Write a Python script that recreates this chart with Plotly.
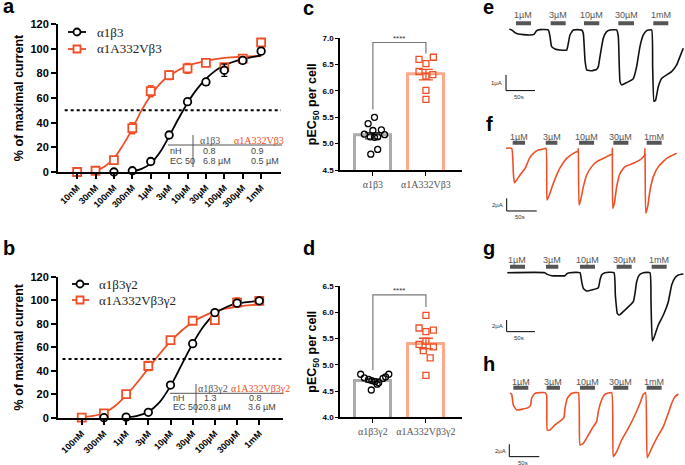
import plotly.graph_objects as go

W, H = 685, 465
RED = "#EF4F26"
SALMON = "#FFA98A"
GREY_BAR = "#ABABAB"
SANS = "Liberation Sans"
SERIF = "Liberation Serif"

# ---------------- a: a1b3 vs a1A332Vb3 (x = log10 molar)
a_ticks = [-8, -7.5, -7, -6.5, -6, -5.5, -5, -4.5, -4, -3.5, -3]
a_ticklabels = ["10nM", "30nM", "100nM", "300nM", "1µM", "3µM", "10µM", "30µM", "100µM", "300µM", "1mM"]
a_wt_x = [-7, -6.5, -6, -5.5, -5, -4.5, -4, -3.5, -3]
a_wt_y = [0, 1, 8.5, 30, 57, 73, 82.5, 90.5, 98]
a_wt_err = [0.5, 0.8, 1.2, 2.5, 2.5, 2.5, 5, 2.5, 1.5]
a_mut_x = [-8, -7.5, -7, -6.5, -6, -5.5, -5, -4.5, -4, -3.5, -3]
a_mut_y = [0, 1, 9.7, 35.5, 65.5, 78.5, 84, 88.5, 85, 92, 105]
a_mut_err = [0.5, 1, 1.5, 4.5, 4.5, 3.5, 4, 2, 2, 1.5, 1]
a_wt_fit_x = [-6.6, -6.25, -6, -5.75, -5.5, -5.25, -5, -4.75, -4.5, -4.25, -4, -3.5, -3]
a_wt_fit_y = [0, 2.5, 7, 16, 29, 43, 56, 67, 75.5, 82, 86.5, 91.5, 94.5]
a_mut_fit_x = [-7.6, -7.5, -7.25, -7, -6.75, -6.5, -6.25, -6, -5.75, -5.5, -5, -4.5, -4, -3.5, -3]
a_mut_fit_y = [0, 1, 4.5, 11, 22, 35, 50, 62, 71.5, 78, 86, 90, 92.5, 93.5, 94]

# ---------------- b: a1b3g2 vs a1A332Vb3g2
b_ticks = [-7, -6.5, -6, -5.5, -5, -4.5, -4, -3.5, -3]
b_ticklabels = ["100nM", "300nM", "1µM", "3µM", "10µM", "30µM", "100µM", "300µM", "1mM"]
b_wt_x = [-6.5, -6, -5.5, -5, -4.5, -4, -3.5, -3]
b_wt_y = [0, 0.5, 4.6, 27.8, 63, 89.5, 97.5, 99.5]
b_wt_err = [0.5, 0.5, 1, 2, 2, 2, 2, 1.5]
b_mut_x = [-7, -6.5, -6, -5.5, -5, -4.5, -4, -3.5, -3]
b_mut_y = [0, 3.7, 20, 44, 66, 82.5, 83, 98, 99.5]
b_mut_err = [0.5, 1, 2, 4, 3, 2, 2.5, 4, 1.5]
b_wt_fit_x = [-6.05, -5.75, -5.5, -5.25, -5, -4.75, -4.5, -4.25, -4, -3.75, -3.5, -3]
b_wt_fit_y = [0, 1.5, 5, 13, 27, 45, 63, 78, 88.5, 94, 97, 99.5]
b_mut_fit_x = [-7.1, -7, -6.75, -6.5, -6.25, -6, -5.75, -5.5, -5.25, -5, -4.75, -4.5, -4.25, -4, -3.5, -3]
b_mut_fit_y = [0, 0.5, 1.5, 4, 10, 19, 30, 42, 54, 65, 74, 81.5, 86.5, 90.5, 94.5, 96.5]

# ---------------- c / d: pEC50 per cell
c_groups = ["α1β3", "α1A332Vβ3"]
c_means = [5.15, 6.31]
c_sems = [0.06, 0.10]
c_wt = [5.50, 5.38, 5.25, 5.26, 5.18, 5.17, 5.13, 5.13, 5.12, 4.89, 4.80]
c_wt_jit = [0.03, -0.09, 0, 0.16, -0.16, 0.22, 0.09, -0.05, 0.03, 0.09, -0.04]
c_mut = [6.60, 6.64, 6.52, 6.37, 6.31, 6.28, 6.01, 5.84]
c_mut_jit = [-0.13, 0.14, 0, -0.13, 0.13, 0, 0, 0]

d_groups = ["α1β3γ2", "α1A332Vβ3γ2"]
d_means = [4.70, 5.405]
d_sems = [0.03, 0.10]
d_wt = [4.82, 4.75, 4.72, 4.70, 4.68, 4.66, 4.63, 4.74, 4.77, 4.82, 4.52]
d_wt_jit = [-0.23, -0.16, -0.08, -0.02, 0.04, 0.11, 0.08, 0.19, 0.24, 0.30, -0.03]
d_mut = [5.94, 5.70, 5.63, 5.66, 5.39, 5.45, 5.34, 5.27, 5.13, 4.80]
d_mut_jit = [0, -0.13, 0, 0.14, -0.13, 0, 0.14, -0.05, 0.08, 0]

# ---------------- e-h: current traces (t in s, I in µA)
doses = ["1µM", "3µM", "10µM", "30µM", "1mM"]
e_t = [5.7, 9.8, 15.5, 21.3, 29.9, 41.4, 48.3, 52.9, 58.6, 73.0, 75.9, 78.7, 84.5, 93.1, 104.6, 107.5, 110.3,
       116.1, 130.5, 133.3, 136.2, 139.1, 147.7, 156.3, 159.2, 162.1, 167.8, 173.6, 179.3, 190.8, 193.7, 196.6,
       199.4, 208.0, 219.5, 225.3, 231.0, 236.8, 242.5, 251.1, 252.9, 255.2, 258.0, 262.6, 268.4, 277.0, 285.6,
       294.3, 300.0, 305.7]
e_i = [0.04, 0, -0.17, -0.26, -0.30, -0.32, -0.28, -0.04, 0.02, 0, -0.43, -1.06, -1.21, -1.28, -1.28, -0.85, -0.32,
       0, 0, -0.21, -1.91, -2.55, -2.60, -2.51, -2.34, -1.70, -0.53, -0.11, 0, 0, -0.43, -3.30, -3.51, -3.36, -3.11,
       -2.34, -1.06, -0.32, -0.04, 0, -2.34, -4.57, -4.47, -3.62, -3.09, -2.87, -2.66, -2.23, -1.70, -1.17]
e_on = [17.2, 77.0, 134.5, 193.7, 254.0]
e_off = [43.1, 102.9, 160.9, 220.7, 279.9]

f_t = [-1.1, 8.3, 11.1, 12.8, 16.7, 22.2, 30.6, 34.4, 37.8, 44.4, 52.8, 61.1, 65.6, 67.2, 71.1, 76.7, 84.4, 90.0,
       100.0, 111.1, 116.7, 118.9, 119.4, 120.6, 123.3, 127.8, 133.3, 141.7, 150.0, 161.1, 172.2, 175.6, 176.1,
       176.7, 179.4, 183.3, 188.9, 197.2, 211.1, 222.2, 227.8, 230.0, 230.6, 231.7, 235.0, 238.9, 244.4, 252.8,
       266.7, 283.3]
f_i = [0, 0, -3.95, -5.42, -5.0, -4.21, -3.16, -2.37, -1.58, -0.79, -0.26, -0.11, 0, -8.16, -7.37, -5.79, -3.95,
       -2.89, -1.58, -0.79, -0.53, -0.53, 0, -8.95, -8.16, -6.05, -4.21, -2.89, -2.11, -1.58, -1.05, -0.95, 0,
       -9.47, -8.68, -6.05, -3.95, -2.89, -2.37, -1.84, -1.32, -1.05, 0, -10.26, -9.21, -6.58, -4.47, -2.89,
       -1.58, -0.79]
f_on = [10, 65, 120.6, 177.8, 233.3]
f_off = [30.6, 84.4, 145.6, 202.8, 258.3]

g_t = [1.2, 67.6, 71.8, 79.4, 102.9, 107.1, 111.8, 129.4, 132.4, 135.3, 141.2, 161.8, 164.7, 167.6, 173.5, 189.4,
       191.8, 195.3, 198.8, 208.8, 223.5, 226.5, 229.4, 234.1, 241.2, 252.9, 254.7, 257.1, 260.6, 267.6, 276.5,
       285.3, 291.2, 297.1, 302.9, 311.8]
g_i = [0, 0, -0.29, -0.51, -0.51, -0.11, 0, 0, -1.54, -2.69, -3.14, -2.57, -1.26, -0.40, 0, 0, -3.83, -6.97,
       -7.26, -6.40, -4.97, -3.54, -1.54, -0.40, 0, 0, -4.97, -11.71, -10.97, -8.97, -7.26, -4.97, -2.11, -0.86,
       -0.40, -0.23]
g_on = [5.9, 69.4, 129.4, 194.1, 255.9]
g_off = [32.4, 91.2, 155.9, 220.6, 282.4]

h_t = [1.1, 3.9, 6.7, 12.2, 31.7, 35.6, 37.2, 42.8, 59.4, 62.2, 63.3, 67.8, 76.1, 87.2, 91.1, 92.8, 96.7, 103.9,
       115.0, 117.8, 123.3, 131.7, 140.0, 145.6, 148.3, 153.9, 159.4, 170.6, 173.3, 178.9, 187.2, 198.3, 209.4,
       217.8, 223.3, 227.2, 230.0, 237.2, 245.6, 256.7, 265.0, 270.6, 276.1, 281.7]
h_i = [-0.11, -0.27, -2.0, -2.81, -2.43, -2.0, -0.92, -0.11, 0, -0.38, -6.05, -6.05, -5.24, -4.43, -4.05, -2.54,
       -0.92, -0.11, 0, -8.49, -8.22, -6.86, -5.51, -4.70, -3.08, -1.19, -0.27, 0, -10.38, -9.57, -7.68, -5.78,
       -3.62, -1.73, -0.27, 0, -10.54, -9.03, -7.41, -5.51, -3.35, -1.73, -0.65, -0.22]
h_on = [6.7, 62.2, 117.8, 173.3, 228.9]
h_off = [31.7, 84.4, 142.8, 198.3, 253.9]


def dom_x(x0, x1):
    return [x0 / W, x1 / W]


def dom_y(y_bottom, y_top):
    return [max(0, 1 - y_bottom / H), 1 - y_top / H]


def px(x, y):
    return x / W, 1 - y / H


fig = go.Figure()
annotations = []
shapes = []


def text(x, y, s, size=9, color="#444", family=SANS, xanchor="center", yanchor="middle", weight="normal"):
    xx, yy = px(x, y)
    annotations.append(dict(x=xx, y=yy, xref="paper", yref="paper", text=s, showarrow=False,
                            xanchor=xanchor, yanchor=yanchor,
                            font=dict(family=family, size=size, color=color, weight=weight)))


def line(x0, y0, x1, y1, color="#555", width=1, dash="solid"):
    a, b = px(x0, y0)
    c, d = px(x1, y1)
    shapes.append(dict(type="line", xref="paper", yref="paper", x0=a, y0=b, x1=c, y1=d,
                       line=dict(color=color, width=width, dash=dash)))


# ---------------- dose-response panels
def dose_panel(n, xs_wt, ys_wt, err_wt, xs_mut, ys_mut, err_mut, fwx, fwy, fmx, fmy):
    xa, ya = f"x{n}" if n > 1 else "x", f"y{n}" if n > 1 else "y"
    fig.add_trace(go.Scatter(x=fmx, y=fmy, mode="lines", line=dict(color=RED, width=1.8, shape="spline"),
                             xaxis=xa, yaxis=ya, cliponaxis=False))
    fig.add_trace(go.Scatter(x=fwx, y=fwy, mode="lines", line=dict(color="black", width=1.8, shape="spline"),
                             xaxis=xa, yaxis=ya, cliponaxis=False))
    fig.add_trace(go.Scatter(x=xs_mut, y=ys_mut, mode="markers", xaxis=xa, yaxis=ya, cliponaxis=False,
                             marker=dict(symbol="square", size=8, color="white", line=dict(color=RED, width=1.8)),
                             error_y=dict(type="data", array=err_mut, color=RED, thickness=1.3, width=3)))
    fig.add_trace(go.Scatter(x=xs_wt, y=ys_wt, mode="markers", xaxis=xa, yaxis=ya, cliponaxis=False,
                             marker=dict(symbol="circle", size=7.5, color="white", line=dict(color="black", width=1.8)),
                             error_y=dict(type="data", array=err_wt, color="black", thickness=1.3, width=3)))


dose_panel(1, a_wt_x, a_wt_y, a_wt_err, a_mut_x, a_mut_y, a_mut_err, a_wt_fit_x, a_wt_fit_y, a_mut_fit_x, a_mut_fit_y)
dose_panel(2, b_wt_x, b_wt_y, b_wt_err, b_mut_x, b_mut_y, b_mut_err, b_wt_fit_x, b_wt_fit_y, b_mut_fit_x, b_mut_fit_y)

dose_x = dict(showgrid=False, zeroline=False, showline=True, linecolor="black", linewidth=2, automargin=False,
              ticks="outside", ticklen=5, tickwidth=2, tickcolor="black", tickangle=-45,
              tickfont=dict(family=SANS, size=9, color="black", weight="bold"))
dose_y = dict(showgrid=False, zeroline=False, showline=True, linecolor="black", linewidth=2, automargin=False,
              ticks="outside", ticklen=5, tickwidth=2, tickcolor="black", range=[0, 120],
              tickvals=[0, 20, 40, 60, 80, 100, 120],
              tickfont=dict(family=SANS, size=11, color="black", weight="bold"),
              title=dict(text="% of maximal current", standoff=4,
                         font=dict(family=SANS, size=12.5, color="black", weight="bold")))


# ---------------- bar + scatter panels
def pec_panel(n, means, sems, wt, wt_jit, mut, mut_jit):
    xa, ya = f"x{n}", f"y{n}"
    fig.add_trace(go.Bar(x=[0], y=[means[0]], width=0.68, xaxis=xa, yaxis=ya,
                         marker=dict(color="white", line=dict(color=GREY_BAR, width=3)),
                         error_y=dict(type="data", array=[sems[0]], color="#333", thickness=1.3, width=8)))
    fig.add_trace(go.Bar(x=[1], y=[means[1]], width=0.68, xaxis=xa, yaxis=ya,
                         marker=dict(color="white", line=dict(color=SALMON, width=3)),
                         error_y=dict(type="data", array=[sems[1]], color=RED, thickness=1.3, width=7)))
    fig.add_trace(go.Scatter(x=[0 + j for j in wt_jit], y=wt, mode="markers", xaxis=xa, yaxis=ya,
                             cliponaxis=False,
                             marker=dict(symbol="circle", size=6, color="rgba(255,255,255,0)",
                                         line=dict(color="black", width=1.3))))
    fig.add_trace(go.Scatter(x=[1 + j for j in mut_jit], y=mut, mode="markers", xaxis=xa, yaxis=ya,
                             cliponaxis=False,
                             marker=dict(symbol="square", size=6, color="rgba(255,255,255,0)",
                                         line=dict(color=RED, width=1.3))))


pec_panel(3, c_means, c_sems, c_wt, c_wt_jit, c_mut, c_mut_jit)
pec_panel(4, d_means, d_sems, d_wt, d_wt_jit, d_mut, d_mut_jit)

pec_x = dict(showgrid=False, zeroline=False, showline=True, linecolor="black", linewidth=1.5, automargin=False,
             ticks="outside", ticklen=4, tickcolor="black", range=[-0.62, 1.68], tickvals=[0, 1],
             tickfont=dict(family=SERIF, size=10, color="#555"))
pec_y = dict(showgrid=False, zeroline=False, showline=True, linecolor="black", linewidth=1.5, automargin=False,
             ticks="outside", ticklen=3, tickcolor="black", tickformat=".1f",
             tickfont=dict(family=SANS, size=8, color="black", weight="bold"),
             title=dict(text="pEC<sub>50</sub> per cell", standoff=3,
                        font=dict(family=SANS, size=12.5, color="black", weight="bold")))

# significance brackets
for xa, ya, yl, yt, yr in [("x3", "y3", 5.65, 6.92, 6.71), ("x4", "y4", 4.90, 6.33, 6.10)]:
    shapes.append(dict(type="path", xref=xa, yref=ya, path=f"M 0,{yl} L 0,{yt} L 1,{yt} L 1,{yr}",
                       line=dict(color="#777", width=1.2)))
    annotations.append(dict(x=0.5, y=yt, xref=xa, yref=ya, text="****", showarrow=False, yanchor="bottom",
                            yshift=-2, font=dict(family=SANS, size=8, color="#333")))

# ---------------- current traces
trace_panels = [
    dict(n=5, t=e_t, i=e_i, on=e_on, off=e_off, color="#111111", box=(494.4, 684.6, 108.3, 9.6),
         trange=[-20, 308], irange=[-5, 1.3], bar_y=0.43, lab_y=0.96, sb_top=-2.87, sb_amp=1, amp_lab="1µA"),
    dict(n=6, t=f_t, i=f_i, on=f_on, off=f_off, color=RED, box=(494.7, 680.7, 218, 133.1),
         trange=[-20, 290], irange=[-11, 2.4], bar_y=0.89, lab_y=1.84, sb_top=-7.89, sb_amp=2, amp_lab="2µA"),
    dict(n=7, t=g_t, i=g_i, on=g_on, off=g_off, color="#111111", box=(495.3, 684.6, 345.6, 255.2),
         trange=[-20, 314], irange=[-12.5, 3.0], bar_y=1.03, lab_y=2.17, sb_top=-8.11, sb_amp=2, amp_lab="2µA"),
    dict(n=8, t=h_t, i=h_i, on=h_on, off=h_off, color=RED, box=(496.1, 683.3, 465.7, 376.6),
         trange=[-22, 290], irange=[-11.73, 2.6], bar_y=0.81, lab_y=1.78, sb_top=-8.38, sb_amp=2, amp_lab="2µA"),
]

layout_axes = {}
for p in trace_panels:
    n = p["n"]
    xa, ya = f"x{n}", f"y{n}"
    fig.add_trace(go.Scatter(x=p["t"], y=p["i"], mode="lines", xaxis=xa, yaxis=ya, cliponaxis=False,
                             line=dict(color=p["color"], width=1.6, shape="spline", smoothing=0.4)))
    bx, by = [], []
    for s, e in zip(p["on"], p["off"]):
        bx += [s, e, None]
        by += [p["bar_y"], p["bar_y"], None]
    fig.add_trace(go.Scatter(x=bx, y=by, mode="lines", xaxis=xa, yaxis=ya, cliponaxis=False,
                             line=dict(color="#555", width=4)))
    for s, e, lab in zip(p["on"], p["off"], doses):
        annotations.append(dict(x=(s + e) / 2, y=p["lab_y"], xref=xa, yref=ya, text=lab, showarrow=False,
                                font=dict(family=SANS, size=9, color="#555")))
    bottom = p["sb_top"] - p["sb_amp"]
    fig.add_trace(go.Scatter(x=[0, 0, 50], y=[p["sb_top"], bottom, bottom], mode="lines",
                             xaxis=xa, yaxis=ya, cliponaxis=False, line=dict(color="black", width=1)))
    annotations.append(dict(x=-3, y=(p["sb_top"] + bottom) / 2, xref=xa, yref=ya, text=p["amp_lab"],
                            showarrow=False, xanchor="right", font=dict(family=SANS, size=6, color="#333")))
    annotations.append(dict(x=22, y=bottom, xref=xa, yref=ya, text="50s", showarrow=False, yanchor="top",
                            yshift=-1, font=dict(family=SANS, size=6, color="#333")))
    x0, x1, yb, yt = p["box"]
    layout_axes[f"xaxis{n}"] = dict(domain=dom_x(x0, x1), range=p["trange"], visible=False, anchor=ya,
                                    automargin=False)
    layout_axes[f"yaxis{n}"] = dict(domain=dom_y(yb, yt), range=p["irange"], visible=False, anchor=xa,
                                    automargin=False)

# ---------------- legends (a, b)
for (ly, lx0, lx1, mx, tx, labels) in [
    ((32, 49), 68, 86, 77, 95, ("α1β3", "α1A332Vβ3")),
    ((284, 300), 72, 89, 80, 97, ("α1β3γ2", "α1A332Vβ3γ2")),
]:
    for k, (yy, lab) in enumerate(zip(ly, labels)):
        col = "black" if k == 0 else RED
        line(lx0, yy, lx1, yy, color=col, width=1.8)
        a, b = px(mx - 3.5, yy + 3.5)
        c, d = px(mx + 3.5, yy - 3.5)
        shapes.append(dict(type="circle" if k == 0 else "rect", xref="paper", yref="paper",
                           x0=a, y0=b, x1=c, y1=d, fillcolor="white", line=dict(color=col, width=1.8)))
        text(tx, yy, lab, size=13, color="#222", family=SERIF, xanchor="left")

# ---------------- EC50 tables
line(193, 135, 193, 167)
line(168, 145, 282, 145)
text(210, 140.5, "α1β3", size=10, family=SERIF, color="#555")
text(259, 140.5, "α1A332Vβ3", size=10, family=SERIF, color=RED)
text(168, 151, "nH", xanchor="left")
text(209.5, 151, "0.8")
text(257, 151, "0.9")
text(168, 160.5, "EC 50", xanchor="left")
text(216.5, 160.5, "6.8 µM")
text(264.5, 160.5, "0.5 µM")

line(196, 384, 196, 413)
line(170, 393.3, 283, 393.3)
text(212.5, 388.3, "α1β3γ2", size=10, family=SERIF, color="#555")
text(260.5, 388.3, "α1A332Vβ3γ2", size=10, family=SERIF, color=RED)
text(170.5, 398.3, "nH", xanchor="left")
text(210, 398.3, "1.3")
text(255, 398.3, "0.8")
text(170.5, 407, "EC 50", xanchor="left")
text(214, 407, "20.8 µM")
text(262, 407, "3.6 µM")

# half-maximal dotted lines
shapes.append(dict(type="line", xref="x domain", yref="y", x0=0.03, x1=1, y0=50, y1=50,
                   line=dict(color="black", width=2, dash="dot")))
shapes.append(dict(type="line", xref="x2 domain", yref="y2", x0=0.02, x1=1, y0=50, y1=50,
                   line=dict(color="black", width=2, dash="dot")))

# panel letters
for letter, x, y in [("a", 1, 6), ("b", 1, 248), ("c", 301, 8), ("d", 301, 248),
                     ("e", 481, 7), ("f", 484, 124), ("g", 481, 248), ("h", 481, 364)]:
    text(x, y, letter, size=20, color="black", xanchor="left", weight="bold")

fig.update_layout(
    template="none",
    width=W, height=H, margin=dict(l=0, r=0, t=0, b=0, pad=0), showlegend=False,
    plot_bgcolor="white", paper_bgcolor="white", bargap=0, hovermode=False,
    xaxis=dict(domain=dom_x(58, 281), range=[-8.52, -2.46], tickvals=a_ticks, ticktext=a_ticklabels,
               anchor="y", **dose_x),
    yaxis=dict(domain=dom_y(172, 24), anchor="x", **dose_y),
    xaxis2=dict(domain=dom_x(58, 283), range=[-7.535, -2.465], tickvals=b_ticks, ticktext=b_ticklabels,
                anchor="y2", **dose_x),
    yaxis2=dict(domain=dom_y(417.7, 276.7), anchor="x2", **dose_y),
    xaxis3=dict(domain=dom_x(340, 462), ticktext=c_groups, anchor="y3", **pec_x),
    yaxis3=dict(domain=dom_y(170, 38.3), range=[4.5, 7.0], tickvals=[4.5, 5.0, 5.5, 6.0, 6.5, 7.0],
                anchor="x3", **pec_y),
    xaxis4=dict(domain=dom_x(340, 462), ticktext=d_groups, anchor="y4", **pec_x),
    yaxis4=dict(domain=dom_y(417.3, 286), range=[4.0, 6.5], tickvals=[4.0, 4.5, 5.0, 5.5, 6.0, 6.5],
                anchor="x4", **pec_y),
    annotations=annotations,
    shapes=shapes,
    **layout_axes,
)

# the page body keeps its default 8px margin otherwise, which shifts and crops the figure
fig.write_html("out.html", config={"displayModeBar": False},
               post_script="document.body.style.margin = '0px';")
